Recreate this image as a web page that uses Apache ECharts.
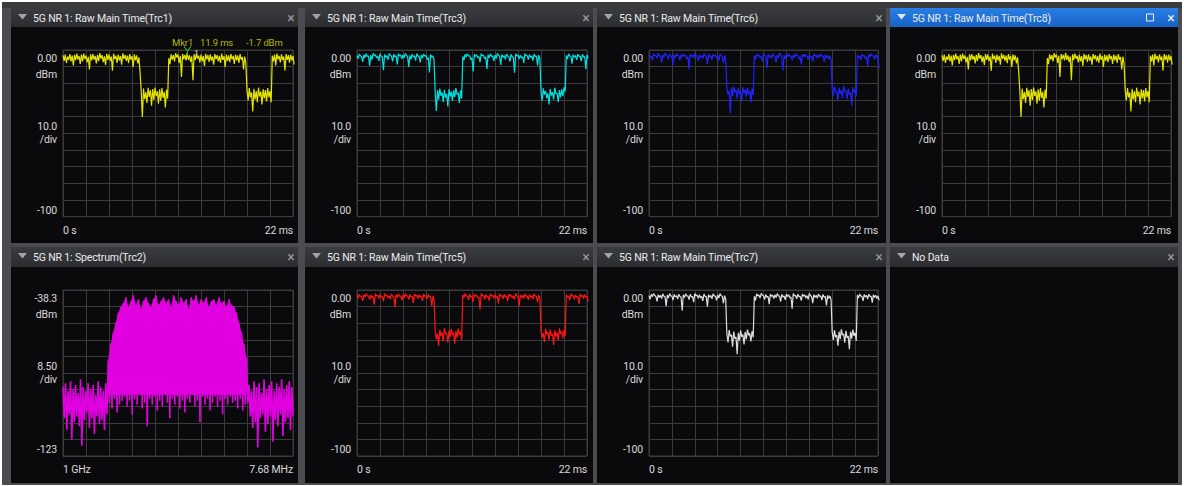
<!DOCTYPE html>
<html><head><meta charset="utf-8">
<script src="https://cdn.jsdelivr.net/npm/echarts@6/dist/echarts.min.js"></script>
<style>html,body{margin:0;padding:0;background:#fff;}#c{width:1184px;height:486px;}#c svg text{letter-spacing:-0.15px;}</style>
</head><body><div id="c"></div><script>
// ---------------- data ----------------
const panelTitles = [
  '5G NR 1: Raw Main Time(Trc1)', '5G NR 1: Raw Main Time(Trc3)', '5G NR 1: Raw Main Time(Trc6)', '5G NR 1: Raw Main Time(Trc8)',
  '5G NR 1: Spectrum(Trc2)', '5G NR 1: Raw Main Time(Trc5)', '5G NR 1: Raw Main Time(Trc7)', 'No Data'
];
const timeAxisLabels = ['0 s', '22 ms'];
const timeSpanMs = 22;
const timeLevelLabels = ['0.00', 'dBm', '10.0', '/div', '-100'];
const timeRefLevel = 0, timePerDiv = 10;
const specAxisLabels = ['1 GHz', '7.68 MHz'];
const specLevelLabels = ['-38.3', 'dBm', '8.50', '/div', '-123'];
const specRefLevel = -38.3, specPerDiv = 8.5;
const specBandFloor = -92;   // bottom of the solid part of the occupied band
const markerName = 'Mkr1', markerTime = 11.9, markerLevel = -1.7;

// each dense time trace is read as an upper (peak) and a lower (dip) reading per sample
const trc1Hi = [-3.2,-2.8,-3.9,-2.5,-3.4,-2.9,-2.2,-3.6,-2.7,-2.1,-3.3,-4.1,-2.6,-2.4,-3.5,-2.9,-1.9,-3.1,-3.8,-2.3,-2.7,-3.9,-2.2,-3.4,-2.8,-3.6,-2.0,-2.9,-3.3,-2.5,-3.7,-2.6,-3.2,-4.4,
  -24.6,-23.1,-25.2,-22.7,-24.0,-23.4,-22.5,-24.8,-23.6,-22.9,-25.1,-23.8,
  -4.8,-2.6,-3.1,-1.9,-2.7,-3.5,-2.4,-2.9,-1.7,-3.2,-3.8,-2.5,-2.2,-3.4,-2.8,-3.6,-2.3,-3.0,-2.6,-3.9,-2.4,-3.1,-3.5,-2.1,-3.7,-2.8,-3.2,-2.4,-3.6,-2.7,-3.3,-2.5,-4.2,-3.9,
  -24.2,-22.8,-25.5,-23.3,-24.7,-22.6,-25.0,-23.5,-24.1,-22.9,-24.6,
  -3.4,-2.7,-2.2,-3.5,-2.6,-3.9,-2.4,-3.1,-2.8,-3.6];
const trc1Lo = [-6.5,-7.8,-5.9,-6.9,-9.2,-6.1,-5.6,-8.4,-6.8,-5.4,-7.5,-11.6,-6.2,-5.8,-8.1,-6.7,-5.2,-7.3,-9.0,-5.9,-6.6,-12.4,-5.5,-7.7,-6.3,-8.8,-5.3,-6.6,-7.9,-5.7,-10.2,-6.2,-8.0,-13.1,
  -40.2,-29.5,-31.8,-28.1,-33.4,-29.9,-27.6,-32.2,-30.4,-28.8,-34.5,-29.2,
  -8.5,-5.8,-6.9,-4.6,-7.7,-16.2,-5.4,-6.3,-5.9,-7.1,-18.1,-6.1,-5.2,-7.5,-6.8,-9.6,-5.7,-7.2,-6.4,-8.8,-5.5,-6.9,-7.8,-5.9,-10.1,-6.6,-7.3,-5.6,-8.4,-6.2,-7.7,-5.8,-11.6,-8.2,
  -30.2,-28.4,-36.8,-29.6,-31.3,-27.9,-32.7,-29.1,-30.8,-28.5,-31.4,
  -6.8,-9.2,-5.6,-7.4,-6.1,-12.3,-5.9,-7.6,-6.3,-8.7];
const trc3Hi = [-3.5,-2.4,-3.9,-2.8,-2.2,-3.6,-3.1,-2.0,-2.9,-3.7,-2.3,-4.2,-2.7,-3.4,-2.1,-3.8,-2.6,-3.3,-2.2,-3.0,-2.9,-2.1,-3.9,-3.2,-2.5,-3.6,-2.2,-3.8,-2.9,-2.4,-3.3,-4.5,-2.7,-3.5,
  -25.8,-24.1,-23.2,-25.5,-23.9,-26.3,-23.5,-25.0,-24.2,-22.8,-25.7,-24.4,
  -3.8,-2.6,-2.2,-3.5,-4.6,-2.5,-2.9,-3.9,-2.1,-3.2,-4.1,-2.8,-2.3,-3.6,-3.0,-2.0,-3.7,-2.7,-3.3,-2.4,-3.8,-2.6,-4.4,-2.2,-3.1,-2.9,-3.9,-2.1,-3.4,-2.8,-3.5,-2.4,-3.7,-3.1,
  -25.4,-23.0,-24.6,-26.1,-23.4,-25.2,-22.7,-25.9,-24.0,-23.6,-22.4,
  -3.2,-2.3,-3.9,-2.7,-3.4,-2.5,-3.7,-2.6,-4.0,-3.0];
const trc3Lo = [-5.2,-3.4,-7.1,-4.6,-3.9,-9.4,-5.8,-3.2,-4.7,-6.5,-3.7,-12.1,-4.4,-5.9,-3.1,-6.8,-4.2,-8.7,-3.6,-5.3,-4.8,-3.3,-10.2,-5.6,-4.1,-6.3,-3.5,-7.4,-4.9,-3.8,-5.7,-13.5,-4.3,-6.0,
  -36.5,-29.8,-27.4,-31.2,-28.6,-33.9,-27.9,-30.5,-28.2,-26.7,-31.8,-29.1,
  -6.1,-4.2,-3.5,-5.9,-12.8,-3.9,-4.6,-7.3,-3.4,-5.2,-11.4,-4.7,-3.8,-6.6,-5.1,-3.2,-8.9,-4.4,-5.6,-3.7,-6.9,-4.1,-13.6,-3.6,-5.4,-4.8,-7.7,-3.3,-5.8,-4.5,-6.4,-3.9,-9.2,-5.1,
  -30.4,-26.8,-28.9,-32.7,-27.3,-29.6,-26.2,-31.1,-28.4,-27.7,-24.9,
  -5.4,-3.6,-8.2,-4.3,-5.9,-3.8,-6.7,-4.1,-11.3,-5.0];
const trc6Hi = [-2.6,-3.8,-2.2,-3.1,-1.9,-3.7,-2.8,-1.8,-3.4,-2.4,-3.9,-2.9,-2.1,-3.6,-2.7,-2.3,-3.2,-4.1,-2.5,-3.0,-2.0,-3.8,-2.9,-3.3,-2.2,-3.6,-2.6,-3.5,-2.4,-3.1,-3.7,-2.3,-3.9,-3.2,
  -23.1,-24.5,-22.6,-21.9,-24.0,-22.8,-25.1,-22.3,-23.7,-22.5,-24.6,-23.2,
  -3.3,-2.4,-2.9,-3.8,-2.1,-3.6,-2.7,-3.2,-2.3,-3.9,-3.0,-1.9,-4.2,-3.3,-2.6,-2.4,-3.7,-2.9,-2.2,-3.4,-3.9,-2.6,-2.5,-3.5,-2.8,-3.8,-2.3,-3.1,-2.7,-2.4,-3.6,-2.9,-3.3,-3.7,
  -23.5,-21.8,-25.0,-22.6,-24.2,-21.5,-24.7,-23.0,-25.6,-22.2,-23.9,
  -2.9,-3.7,-2.4,-3.3,-4.0,-2.6,-2.3,-3.5,-2.8,-3.9];
const trc6Lo = [-4.1,-6.3,-3.5,-5.0,-3.2,-7.6,-4.4,-2.9,-5.7,-3.8,-9.1,-4.6,-3.3,-6.0,-4.2,-3.6,-5.4,-11.6,-3.9,-4.8,-3.1,-6.7,-4.5,-5.2,-3.4,-8.3,-4.0,-5.9,-3.7,-4.9,-6.4,-3.5,-7.8,-5.1,
  -26.8,-38.1,-27.5,-25.4,-29.2,-26.3,-30.8,-25.9,-28.1,-26.6,-31.5,-27.0,
  -5.6,-3.7,-4.5,-6.8,-3.3,-10.9,-4.2,-5.1,-3.6,-7.4,-4.8,-3.0,-12.3,-5.3,-4.0,-3.8,-6.1,-4.7,-3.4,-5.5,-8.6,-4.1,-3.9,-5.8,-4.4,-6.9,-3.5,-5.0,-4.3,-3.7,-7.2,-4.6,-5.4,-6.0,
  -27.4,-25.1,-30.6,-26.2,-28.7,-24.8,-29.5,-26.9,-33.2,-25.6,-27.8,
  -4.7,-6.2,-3.8,-5.3,-9.7,-4.1,-3.6,-5.8,-4.4,-10.8];
const trc8Hi = trc1Hi.slice();
const trc8Lo = trc1Lo.slice();
const trc5Hi = [-3.1,-2.5,-3.8,-2.7,-2.2,-3.5,-2.9,-3.9,-2.3,-3.2,-2.6,-3.9,-2.1,-3.0,-3.4,-2.4,-4.1,-2.8,-2.3,-3.7,-3.0,-2.2,-3.5,-2.7,-3.8,-2.3,-3.2,-2.8,-3.6,-2.5,-3.3,-2.6,-3.9,-3.5,
  -24.8,-26.2,-23.9,-25.6,-23.0,-26.0,-24.4,-23.5,-25.9,-24.7,-23.3,-25.2,
  -2.9,-2.2,-3.6,-2.6,-3.9,-2.4,-3.1,-4.2,-2.1,-3.4,-2.7,-3.8,-2.3,-3.1,-2.8,-3.9,-2.3,-3.3,-2.6,-3.7,-2.5,-3.0,-3.5,-2.1,-4.0,-2.9,-3.2,-2.4,-3.6,-2.8,-3.4,-2.3,-3.8,-3.0,
  -24.5,-26.0,-23.4,-25.3,-23.8,-26.4,-24.2,-25.6,-23.1,-24.9,-24.0,
  -2.7,-3.6,-2.3,-3.4,-2.9,-3.9,-2.5,-3.2,-2.8,-3.7];
const trc5Lo = [-5.0,-3.9,-6.6,-4.3,-3.5,-5.8,-4.7,-8.9,-3.6,-5.2,-4.1,-6.9,-3.3,-4.8,-5.5,-3.8,-10.4,-4.5,-3.7,-6.2,-4.9,-3.4,-5.7,-4.2,-7.8,-3.6,-5.1,-4.4,-6.5,-3.9,-5.3,-4.0,-9.6,-5.8,
  -29.4,-33.6,-27.8,-30.9,-26.5,-31.7,-28.3,-27.1,-32.4,-28.8,-26.9,-30.2,
  -4.6,-3.5,-5.9,-4.2,-7.1,-3.8,-4.9,-11.7,-3.4,-5.6,-4.3,-6.4,-3.7,-5.0,-4.5,-8.2,-3.6,-5.4,-4.1,-6.7,-3.9,-4.8,-5.7,-3.3,-9.8,-4.6,-5.2,-3.8,-6.0,-4.4,-5.5,-3.6,-7.3,-4.9,
  -28.6,-31.3,-26.7,-29.9,-27.5,-33.1,-28.1,-30.4,-26.4,-29.2,-27.9,
  -4.3,-6.1,-3.7,-5.5,-4.6,-8.4,-3.9,-5.1,-4.4,-6.8];
const trc7Hi = [-3.4,-2.6,-2.1,-3.9,-2.8,-3.2,-2.3,-4.1,-3.0,-2.2,-3.7,-2.7,-3.4,-2.5,-4.3,-2.9,-2.3,-3.6,-2.6,-3.9,-2.1,-3.1,-2.9,-3.8,-2.4,-4.0,-2.8,-3.3,-2.3,-3.7,-3.0,-2.2,-3.8,-3.4,
  -26.2,-24.1,-27.0,-25.0,-28.3,-25.8,-24.3,-26.9,-25.2,-23.8,-26.1,-24.7,
  -3.8,-2.3,-3.0,-2.0,-3.5,-2.7,-3.9,-2.4,-3.2,-2.9,-2.2,-3.7,-2.6,-3.6,-2.5,-2.9,-4.2,-2.1,-3.3,-2.5,-3.8,-2.4,-3.0,-3.4,-2.1,-3.9,-2.8,-3.1,-2.4,-3.6,-2.7,-4.0,-3.2,-3.5,
  -25.4,-24.2,-27.1,-25.0,-23.7,-26.5,-24.6,-27.8,-25.1,-23.9,-25.8,
  -3.0,-2.4,-3.8,-2.7,-3.3,-2.5,-3.9,-2.8,-3.1,-3.6];
const trc7Lo = [-5.6,-4.0,-3.3,-6.9,-4.5,-5.2,-3.7,-9.8,-4.8,-3.5,-6.1,-4.2,-5.5,-3.9,-12.4,-4.6,-3.6,-5.8,-4.1,-7.3,-3.4,-5.0,-4.7,-6.6,-3.8,-10.1,-4.4,-5.3,-3.6,-6.2,-4.9,-3.5,-8.0,-5.4,
  -31.6,-27.9,-34.2,-29.3,-38.7,-30.5,-28.2,-32.8,-29.7,-27.4,-31.0,-28.6,
  -6.3,-3.6,-4.9,-3.2,-5.7,-4.3,-8.5,-3.8,-5.1,-4.6,-3.5,-7.0,-4.2,-5.9,-3.9,-4.7,-11.2,-3.4,-5.3,-4.0,-6.4,-3.7,-4.8,-5.6,-3.3,-7.9,-4.5,-5.0,-3.8,-6.1,-4.4,-9.3,-5.2,-5.8,
  -30.1,-28.4,-33.5,-29.6,-27.2,-31.8,-28.9,-35.7,-29.3,-27.6,-30.7,
  -4.9,-3.7,-6.5,-4.2,-5.4,-3.9,-7.6,-4.5,-5.1,-6.2];
// spectrum, read the same way
const specUpper = [-88,-86,-90,-85,-89,-87,-91,-84,-88,-90,-86,-89,-87,-92,-85,-88,-90,-86,
  -74,-66,-60,-55,-50,-47,
  -45,-42,-47,-44,-41,-46,-43,-48,-44,-42,-45,-47,-43,-41,-46,-44,-42,-45,-43,-47,-41,-44,-46,-42,-45,-43,-48,-42,-44,-41,-46,-43,-45,-42,-47,-44,-43,-46,-42,-45,-44,-47,-43,-46,
  -47,-50,-55,-60,-66,-73,
  -87,-90,-85,-88,-86,-91,-84,-89,-87,-85,-90,-86,-88,-84,-89,-87,-85,-88];
const specLower = [-104,-110,-102,-115,-106,-103,-108,-118,-105,-101,-109,-104,-112,-103,-107,-105,-110,-102,
  -96,-99,-94,-101,-97,-95,
  -93,-98,-95,-102,-94,-97,-92,-99,-96,-108,-94,-97,-93,-100,-95,-98,-92,-96,-104,-94,-97,-93,-99,-95,-101,-94,-96,-92,-98,-95,-106,-93,-97,-94,-100,-96,-93,-98,-95,-102,-94,-97,-93,-96,
  -95,-99,-94,-100,-97,-96,
  -103,-109,-106,-119,-104,-102,-111,-107,-103,-116,-105,-108,-102,-113,-106,-104,-110,-103];

// ---------------- layout / style ----------------
const FONT = 'Roboto';
const FS = 10.5;
const colX = [11, 305, 597, 890], colW = [287, 288, 289, 288];
const rowY = [8, 247], rowH = [235, 236], headH = [19, 20];
const gridTop = [50, 290], gridHt = [166.7, 166];
const gridW = [230, 230, 229, 229];
const GRIDLINE = '#3b3b3b', LABEL = '#dadada';

const panels = [
  {c:0, r:0, kind:'time', hi:trc1Hi, lo:trc1Lo, color:'#e4e400', marker:true},
  {c:1, r:0, kind:'time', hi:trc3Hi, lo:trc3Lo, color:'#00e2e2'},
  {c:2, r:0, kind:'time', hi:trc6Hi, lo:trc6Lo, color:'#2222ff'},
  {c:3, r:0, kind:'time', hi:trc8Hi, lo:trc8Lo, color:'#e4e400', active:true},
  {c:0, r:1, kind:'spec', hi:specUpper, lo:specLower, color:'#e000e0'},
  {c:1, r:1, kind:'time', hi:trc5Hi, lo:trc5Lo, color:'#ff1414'},
  {c:2, r:1, kind:'time', hi:trc7Hi, lo:trc7Lo, color:'#dedede'},
  {c:3, r:1, kind:'empty'}
];

const graphics = [
  {type:'rect', z:-20, shape:{x:2, y:2, width:1180, height:483}, style:{fill:'#4b4c4f'}},
  {type:'rect', z:-19, shape:{x:2, y:2, width:1180, height:6}, style:{fill:'#3a3b3d'}}
];
const grids = [], xAxes = [], yAxes = [], series = [];

function near(a, b) { return Math.abs(a - b) < 1e-6; }

panels.forEach((p, k) => {
  const x = colX[p.c], y = rowY[p.r], w = colW[p.c], h = rowH[p.r], hh = headH[p.r];
  graphics.push({type:'rect', z:-10, shape:{x, y, width:w, height:h}, style:{fill:'#0a0a0c'}});
  graphics.push({type:'rect', z:-9, shape:{x, y, width:w, height:hh}, style:{fill: new echarts.graphic.LinearGradient(0,0,0,1,
    p.active ? [{offset:0,color:'#2a7fe4'},{offset:1,color:'#1762c6'}] : [{offset:0,color:'#393b3f'},{offset:1,color:'#2b2d31'}])}});
  graphics.push({type:'polygon', z:-8, shape:{points:[[x+7,y+6],[x+16,y+6],[x+11.5,y+11.5]]}, style:{fill: p.active ? '#d8e6f8' : '#a4a4a4'}});
  graphics.push({type:'text', z:-8, x:x+22, y:y+hh/2+0.5, style:{text:panelTitles[k], fill:'#ececec', font:FS + 'px ' + FONT, verticalAlign:'middle', align:'left'}});
  graphics.push({type:'text', z:-8, x:x+w-7, y:y+hh/2, style:{text:'\u00d7', fill: p.active ? '#e8eef8' : '#9c9c9c', font:'14px ' + FONT, verticalAlign:'middle', align:'center'}});
  if (p.active) {
    graphics.push({type:'rect', z:-8, shape:{x:x+w-31.5, y:y+hh/2-3.5, width:7, height:7}, style:{fill:'none', stroke:'#e8eef8', lineWidth:1}});
  }
  if (p.kind === 'empty') return;

  const gi = grids.length;
  grids.push({left:x+52, top:gridTop[p.r], width:gridW[p.c], height:gridHt[p.r], show:true, borderColor:GRIDLINE, borderWidth:1, backgroundColor:'transparent', containLabel:false});

  const isSpec = p.kind === 'spec';
  const xl = isSpec ? specAxisLabels : timeAxisLabels;
  const n = p.hi.length;
  const xMax = isSpec ? n - 0.5 : timeSpanMs;
  const step = isSpec ? 1 : timeSpanMs / (n - 1);
  xAxes.push({
    type:'value', gridIndex:gi, min:0, max:xMax, interval:xMax/10,
    axisLine:{show:false}, axisTick:{show:false},
    splitLine:{show:true, lineStyle:{color:GRIDLINE, width:1}},
    axisLabel:{show:true, customValues:[0, xMax], margin:8, color:LABEL, fontFamily:FONT, fontSize:FS,
      alignMinLabel:'left', alignMaxLabel:'right',
      formatter:(v) => near(v, 0) ? xl[0] : xl[1]}
  });

  const ref = isSpec ? specRefLevel : timeRefLevel;
  const per = isSpec ? specPerDiv : timePerDiv;
  const yl = isSpec ? specLevelLabels : timeLevelLabels;
  const yMin = +(ref - 10*per).toFixed(4), yMid = +(ref - 5*per).toFixed(4);
  yAxes.push({
    type:'value', gridIndex:gi, min:yMin, max:ref, interval:per,
    axisLine:{show:false}, axisTick:{show:false},
    splitLine:{show:true, lineStyle:{color:GRIDLINE, width:1}},
    axisLabel:{show:true, customValues:[yMin, yMid, ref], margin:6, color:LABEL, fontFamily:FONT, fontSize:FS,
      verticalAlignMinLabel:'bottom', verticalAlignMaxLabel:'top',
      formatter:(v) => near(v, ref) ? '{t|' + yl[0] + '}\n{t|' + yl[1] + '}' : near(v, yMid) ? '{m|' + yl[2] + '}\n{m|' + yl[3] + '}' : '{m|' + yl[4] + '}',
      rich:{t:{fontFamily:FONT, fontSize:FS, lineHeight:16, color:LABEL, align:'right'}, m:{fontFamily:FONT, fontSize:FS, lineHeight:13, color:LABEL, align:'right'}}}
  });

  if (isSpec) {
    // solid body of the occupied band (upper reading down to the band floor)
    series.push({type:'line', xAxisIndex:gi, yAxisIndex:gi,
      data:p.hi.map((u, i) => [i, u > specBandFloor + 15 ? u : null]), connectNulls:false,
      showSymbol:false, symbol:'none', lineStyle:{width:0}, areaStyle:{color:p.color, opacity:1, origin:specBandFloor},
      animation:false, silent:true});
  }
  // dense trace: alternate the upper and lower reading of each sample
  const zz = [];
  p.hi.forEach((u, i) => { zz.push([i * step, u]); zz.push([(i + 0.5) * step, p.lo[i]]); });
  const s = {type:'line', xAxisIndex:gi, yAxisIndex:gi, data:zz, showSymbol:false, symbol:'none',
    lineStyle:{color:p.color, width:isSpec ? 1.6 : 1.2}, animation:false, silent:true};
  if (p.marker) {
    s.markPoint = {symbol:'path://M0,0 L5,6 L10,0 M5,6 L5,12', symbolSize:[7,9], symbolOffset:[0,-2],
      itemStyle:{color:'none', borderColor:'#25c825', borderWidth:1},
      label:{show:true, position:'right', distance:1, offset:[0,3], formatter:'1', color:'#d0d0d0', fontSize:9, fontFamily:FONT},
      data:[{coord:[markerTime, markerLevel]}]};
    graphics.push({type:'text', x:172, y:42, style:{text:markerName, fill:'#b8b800', font:'9.5px ' + FONT, verticalAlign:'middle'}});
    graphics.push({type:'text', x:200, y:42, style:{text:markerTime + ' ms', fill:'#b8b800', font:'9.5px ' + FONT, verticalAlign:'middle'}});
    graphics.push({type:'text', x:246, y:42, style:{text:markerLevel + ' dBm', fill:'#b8b800', font:'9.5px ' + FONT, verticalAlign:'middle'}});
  }
  series.push(s);
});

const chart = echarts.init(document.getElementById('c'), null, {renderer:'svg', width:1184, height:486});
chart.setOption({
  animation:false,
  backgroundColor:'#ffffff',
  graphic:{elements:graphics},
  grid:grids, xAxis:xAxes, yAxis:yAxes, series:series
});
</script></body></html>
